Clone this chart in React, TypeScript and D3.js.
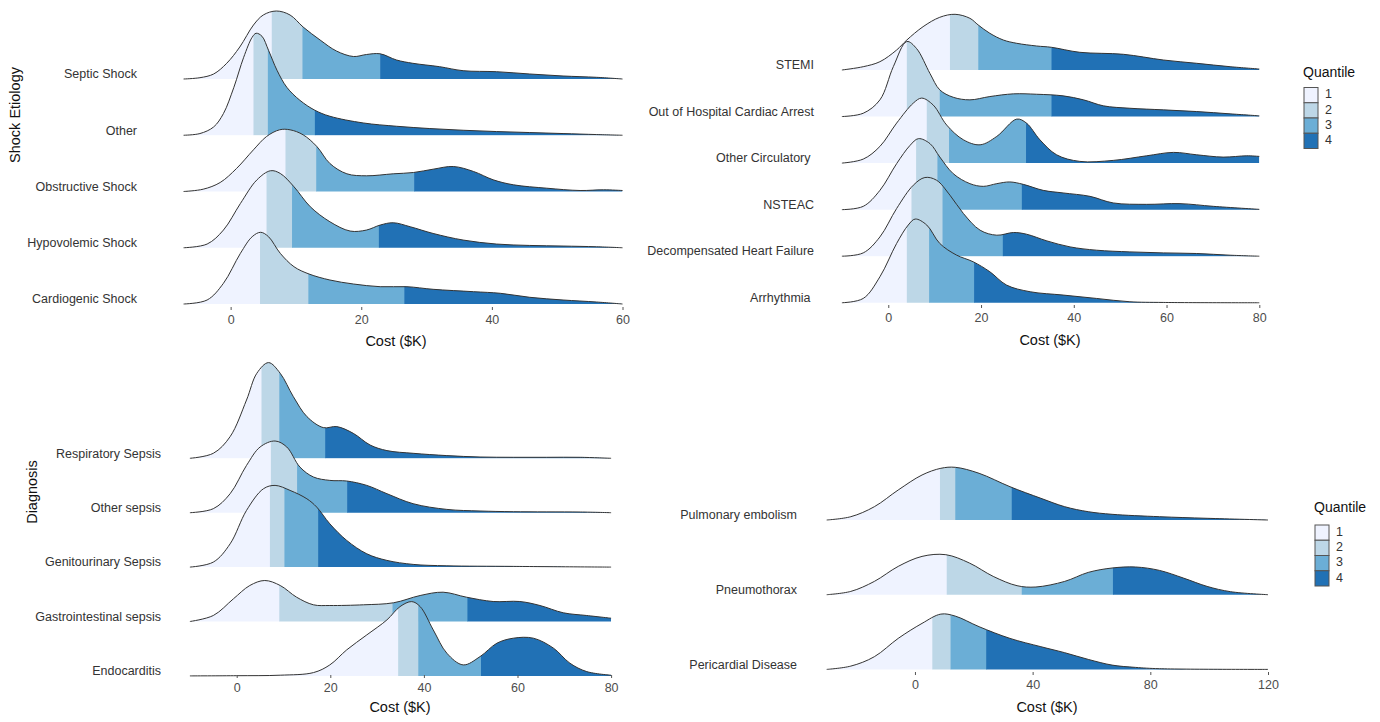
import React, { useEffect, useRef } from 'react'
import * as d3 from 'd3'

type Pt = [number, number]

// ---- Shock etiology (top left) ----
const shockLabels = ['Septic Shock', 'Other', 'Obstructive Shock', 'Hypovolemic Shock', 'Cardiogenic Shock']
const shockTicks = [0, 20, 40, 60]
const septicShock: Pt[] = [[-7.2, 0], [-4.7, 1.3], [-2.6, 5], [-0.6, 15.7], [1.4, 32], [3.5, 54], [5.0, 64], [7.0, 68], [9.1, 64], [11.1, 52], [13.7, 39], [16.2, 28], [18.8, 22.5], [20.8, 24.5], [22.9, 25.2], [25.4, 19], [27.9, 15.7], [32, 12.3], [35.6, 8.3], [40.7, 7.3], [45.8, 5], [50.9, 3], [56, 1.7], [60, 0]]
const otherShock: Pt[] = [[-7.2, 0], [-4.7, 1.7], [-2.6, 8.3], [-1.1, 21.7], [0.5, 48], [2.0, 78], [3.3, 98], [3.9, 102], [4.8, 99], [5.8, 85], [7.1, 65], [8.6, 48], [10.6, 35], [12.9, 25], [15.2, 19], [20.3, 12.3], [25.4, 9], [30.5, 6.7], [35.6, 5], [40.7, 3.7], [45.8, 2.7], [50.9, 1.7], [56, 0.7], [60, 0]]
const obstructiveShock: Pt[] = [[-7.2, 0], [-4.2, 2.3], [-1.6, 9], [0.9, 23], [3.5, 41.7], [5.5, 55], [7.5, 61.7], [9.1, 61.7], [11.1, 56.7], [13.2, 45], [15.2, 28], [17.8, 17.7], [20.8, 15.7], [24.9, 17.7], [28, 19], [31, 22.3], [34.1, 25], [37.2, 20], [40.2, 11.7], [43.3, 6.7], [48.4, 3.3], [53.5, 1], [57.1, 1.7], [60, 1]]
const hypovolemicShock: Pt[] = [[-7.2, 0], [-3.6, 3.7], [-1.1, 17.7], [1.5, 44.3], [4.0, 67.7], [6.1, 77], [7.6, 74.3], [9.7, 61], [12.2, 41], [15.2, 26], [18.3, 16.7], [20.8, 17.7], [22.9, 22.7], [24.9, 25], [27.5, 21], [31, 14.3], [35.6, 7.7], [40.7, 3.7], [45.8, 2.3], [50.9, 1.7], [56, 1], [60, 0]]
const cardiogenicShock: Pt[] = [[-7.2, 0], [-3.6, 4], [-1.1, 20.7], [1.5, 50.7], [3.3, 67.3], [4.6, 71.7], [5.8, 67.3], [7.6, 50.7], [9.7, 37.3], [12.0, 30], [15.2, 24], [18.8, 20], [22.9, 17.3], [27, 17.3], [31, 14.7], [37.2, 12.3], [41.3, 10.7], [45.8, 6.7], [50.9, 4], [56, 2], [60, 0]]
const shockCuts = [[6.3, 11.0, 22.9], [3.5, 5.7, 12.9], [8.4, 13.1, 28.1], [5.5, 9.4, 22.7], [4.5, 11.9, 26.6]]

// ---- Circulatory (top right) ----
const circLabels = ['STEMI', 'Out of Hospital Cardiac Arrest', 'Other Circulatory ', 'NSTEAC', 'Decompensated Heart Failure', 'Arrhythmia ']
const circTicks = [0, 20, 40, 60, 80]
const stemi: Pt[] = [[-10, 0], [-5.4, 3.3], [-1.8, 8.3], [1.8, 20], [4.0, 30], [7.5, 43.3], [11.1, 52.7], [14.4, 55.7], [17.6, 51.7], [19.4, 45], [21.9, 36.7], [24.8, 30], [27.7, 26.7], [32.0, 24], [35.2, 22.7], [41.3, 17.7], [50.7, 15.7], [59.3, 10], [66.5, 6.7], [73.7, 3.3], [80, 1]]
const outOfHospital: Pt[] = [[-10, 0], [-5.4, 3.3], [-1.8, 16.7], [1.1, 50], [4.0, 75], [6.1, 68], [9.0, 43], [11.1, 26.7], [14.0, 19.3], [17.6, 16.7], [21.9, 20], [27.0, 22.7], [32.0, 22.3], [37.7, 20.7], [42.1, 16.7], [46.4, 10.7], [52.1, 8.3], [59.3, 6.7], [66.5, 5], [73.7, 2.7], [80, 0.7]]
const otherCirculatory: Pt[] = [[-10, 0], [-5.4, 4], [-1.8, 16.7], [1.8, 40], [5.4, 60], [7.2, 65], [9.7, 58], [12.6, 38], [16.2, 23.3], [19.8, 18.3], [23.4, 26.7], [27.7, 44], [29.8, 40], [32.7, 23.3], [36.3, 8.3], [41.3, 1.7], [48.5, 2.7], [55.7, 7.3], [61.5, 10.7], [66.5, 8.3], [72.2, 6], [77.3, 7.3], [80, 6.7]]
const nsteac: Pt[] = [[-10, 0], [-5.4, 3.3], [-1.8, 19.3], [1.8, 46], [4.7, 64.3], [6.5, 71], [9.0, 66], [11.1, 52.7], [14.0, 36], [17.6, 26], [20.5, 23.3], [23.4, 26], [26.2, 27.7], [29.1, 25.3], [33.4, 19.3], [37.7, 16.7], [43.5, 13.3], [48.5, 6.7], [55.7, 5.3], [62.9, 6], [70.1, 3.3], [80, 0.3]]
const decompensatedHF: Pt[] = [[-10, 0], [-5.4, 3.3], [-1.8, 19.3], [1.8, 47.7], [5.4, 71], [7.9, 78.7], [10.4, 76], [13.3, 61], [16.2, 42.7], [19.8, 26], [23.4, 21], [27.0, 23.7], [29.8, 22], [34.2, 15.3], [39.2, 9.3], [44.9, 6], [52.1, 4.3], [59.3, 3.3], [66.5, 2.7], [73.7, 1], [80, 0]]
const arrhythmia: Pt[] = [[-10, 0], [-5.4, 4.3], [-1.8, 26], [1.8, 59.3], [4.3, 77.7], [5.8, 83.7], [8.3, 77.7], [11.1, 59.3], [14.7, 47.7], [18.3, 41], [21.9, 31], [25.5, 17.7], [30.6, 11], [37.7, 7.7], [44.9, 4.3], [52.1, 1], [59.3, 0.3], [80, 0]]
const circCuts = [[13.3, 19.4, 35.2], [4.0, 11.1, 35.2], [8.3, 13.1, 29.7], [6.0, 10.6, 28.8], [5.0, 11.7, 24.7], [4.0, 8.8, 18.5]]

// ---- Sepsis diagnosis (bottom left) ----
const sepsisLabels = ['Respiratory Sepsis', 'Other sepsis', 'Genitourinary Sepsis', 'Gastrointestinal sepsis', 'Endocarditis']
const sepsisTicks = [0, 20, 40, 60, 80]
const respiratorySepsis: Pt[] = [[-10, 0], [-5.0, 5], [-1.4, 21.7], [2.1, 58.3], [4.3, 85], [6.8, 95.7], [9.3, 85], [12.1, 61.7], [15.0, 41.7], [18.5, 30.7], [21.4, 31.7], [24.9, 25], [28.5, 13.3], [32.1, 7.7], [37.7, 5], [44.9, 2.7], [52.0, 1.3], [59.1, 1], [66.2, 1], [73.4, 1], [80, 0]]
const otherSepsis: Pt[] = [[-10, 0], [-5.0, 4], [-1.4, 19], [2.1, 47.3], [5.0, 65.7], [8.2, 71.7], [10.7, 65.7], [13.5, 45.7], [16.4, 35.7], [19.9, 32.3], [23.5, 31.7], [27.8, 27.3], [32.1, 19], [37.7, 9], [44.9, 3.3], [52.0, 1.7], [59.1, 1], [73.4, 0.7], [80, 0]]
const genitourinarySepsis: Pt[] = [[-10, 0], [-5.0, 5], [-1.4, 23.3], [2.1, 56.7], [5.7, 78.3], [8.2, 81.7], [11.4, 76.7], [15.0, 68.3], [17.1, 60], [19.9, 43.3], [23.5, 26.7], [27.8, 13.3], [32.1, 6.7], [37.7, 2.7], [44.9, 1.3], [59.1, 0.7], [80, 0]]
const giSepsis: Pt[] = [[-10, 0], [-5.0, 6], [-0.7, 22.7], [2.8, 36], [6.0, 41], [9.3, 36], [12.8, 24.3], [16.4, 16.7], [19.9, 16], [27.1, 16.7], [33.5, 18.7], [39.2, 26], [44.1, 29.3], [49.1, 24.3], [54.8, 20], [60.5, 20], [64.8, 16], [69.8, 8.7], [74.8, 6], [80, 3.3]]
const endocarditis: Pt[] = [[-10, 0], [0, 0.2], [9.3, 0.7], [16.4, 3.3], [19.9, 11], [23.5, 26], [27.8, 41], [32.1, 56], [34.9, 69.3], [37.4, 74.3], [39.2, 69.3], [42.0, 46], [44.9, 22.7], [48.4, 11], [52.0, 19.3], [55.6, 32.7], [59.1, 37.7], [63.4, 37.7], [67.7, 27.7], [71.2, 12.7], [74.8, 4.3], [80, 0.7]]
const sepsisCuts = [[5.3, 9.1, 18.9], [7.3, 12.9, 23.6], [7.1, 10.2, 17.4], [9.1, 33.3, 49.3], [34.5, 38.8, 52.2]]

// ---- Other diagnoses (bottom right) ----
const otherLabels = ['Pulmonary embolism', 'Pneumothorax', 'Pericardial Disease']
const otherTicks = [0, 40, 80, 120]
const pulmonaryEmbolism: Pt[] = [[-30, 0], [-21.8, 3.3], [-13.8, 13.3], [-5.7, 30], [2.4, 45], [8.8, 51.7], [13.7, 52.7], [21.8, 46.7], [32.3, 33.3], [42.8, 21.7], [50.9, 13.3], [58.9, 8.3], [67.0, 5.7], [83.1, 3.3], [99.3, 1.7], [120, 0]]
const pneumothorax: Pt[] = [[-30, 0], [-21.8, 3.3], [-13.8, 13.3], [-5.7, 28.3], [2.4, 38.3], [10.5, 40], [18.5, 31.7], [26.6, 18.3], [34.7, 9], [41.1, 7.7], [50.9, 13.3], [58.9, 22.3], [67.0, 26.7], [75.0, 27.7], [83.1, 24.3], [91.2, 16.7], [99.3, 8.3], [107.3, 3], [120, 0]]
const pericardialDisease: Pt[] = [[-30, 0], [-21.8, 3.3], [-13.8, 12.7], [-5.7, 31], [2.4, 46], [8.8, 55.3], [13.7, 53.3], [21.8, 42.7], [32.3, 31], [42.8, 22.7], [50.9, 16.7], [58.9, 10], [67.0, 4.3], [75.0, 2], [83.1, 0.7], [120, 0]]
const otherCuts = [[8.5, 13.7, 32.9], [10.8, 36.3, 67.3], [5.9, 12.1, 24.2]]

const quantiles = ['1', '2', '3', '4']
const quantileColors = ['#eff3ff', '#bdd7e7', '#6baed6', '#2171b5']

const FONT = 'Arial, "Liberation Sans", sans-serif'

const panels = [
  { labels: shockLabels, ridges: [septicShock, otherShock, obstructiveShock, hypovolemicShock, cardiogenicShock], cuts: shockCuts,
    domain: [-7.2, 60], range: [183.6, 622.5], ticks: shockTicks, top: 79, step: 56.25, labelX: 137, axisY: 307,
    titleX: 396, titleY: 342, yTitle: 'Shock Etiology', yTitleX: 16, yTitleY: 115 },
  { labels: circLabels, ridges: [stemi, outOfHospital, otherCirculatory, nsteac, decompensatedHF, arrhythmia], cuts: circCuts,
    domain: [-10, 80], range: [841.9, 1259.3], ticks: circTicks, top: 70, step: 46.55, labelX: 814, axisY: 305,
    titleX: 1050, titleY: 341, yTitle: '', yTitleX: 0, yTitleY: 0 },
  { labels: sepsisLabels, ridges: [respiratorySepsis, otherSepsis, genitourinarySepsis, giSepsis, endocarditis], cuts: sepsisCuts,
    domain: [-10, 80], range: [189.9, 611.1], ticks: sepsisTicks, top: 458.3, step: 54.4, labelX: 161, axisY: 675,
    titleX: 400, titleY: 708, yTitle: 'Diagnosis', yTitleX: 33, yTitleY: 492 },
  { labels: otherLabels, ridges: [pulmonaryEmbolism, pneumothorax, pericardialDisease], cuts: otherCuts,
    domain: [-30, 120], range: [826.7, 1268], ticks: otherTicks, top: 520, step: 74.7, labelX: 797, axisY: 672,
    titleX: 1047, titleY: 708, yTitle: '', yTitleX: 0, yTitleY: 0 },
]

const legends = [
  { x: 1303, y: 73, keyY: 87.5 },
  { x: 1314, y: 508, keyY: 525 },
]

function drawPanel(svg: any, p: any, pi: number) {
  const x = d3.scaleLinear().domain(p.domain).range(p.range)
  // relative density -> ridge height in px
  const h = d3.scaleLinear().domain([0, 100]).range([0, 100])
  const g = svg.append('g')
  const curve = d3.curveCatmullRom.alpha(0.5)

  p.ridges.forEach((pts: Pt[], i: number) => {
    const base = p.top + i * p.step
    const area = d3.area<Pt>()
      .x(d => x(d[0]))
      .y0(base)
      .y1(d => Math.min(base, base - h(d[1])))
      .curve(curve)
    const line = d3.line<Pt>()
      .x(d => x(d[0]))
      .y(d => base - h(d[1]))
      .curve(curve)

    const bounds = [p.domain[0], ...p.cuts[i], p.domain[1]]
    const rg = g.append('g')
    quantileColors.forEach((c, k) => {
      const id = `clip-${pi}-${i}-${k}`
      rg.append('clipPath').attr('id', id)
        .append('rect')
        .attr('x', x(bounds[k]))
        .attr('y', 0)
        .attr('width', x(bounds[k + 1]) - x(bounds[k]) + (k < 3 ? 0.6 : 0))
        .attr('height', base + 0.5)
      rg.append('path')
        .datum(pts)
        .attr('d', area)
        .attr('fill', c)
        .attr('clip-path', `url(#${id})`)
    })
    rg.append('path')
      .datum(pts)
      .attr('d', line)
      .attr('fill', 'none')
      .attr('stroke', '#333')
      .attr('stroke-width', 1)

    g.append('text')
      .attr('x', p.labelX)
      .attr('y', base - 4)
      .attr('text-anchor', 'end')
      .attr('dominant-baseline', 'middle')
      .style('white-space', 'pre')
      .attr('font-family', FONT)
      .attr('font-size', 12.5)
      .attr('fill', '#333')
      .text(p.labels[i])
  })

  const axis = g.append('g')
    .attr('transform', `translate(0,${p.axisY})`)
    .call(d3.axisBottom(x).tickValues(p.ticks).tickSize(3).tickPadding(5).tickFormat(d3.format('d')))
  axis.select('.domain').remove()
  axis.selectAll('line').attr('stroke', '#555')
  axis.selectAll('text').attr('font-family', FONT).attr('font-size', 12.5).attr('fill', '#4d4d4d')

  g.append('text')
    .attr('x', p.titleX)
    .attr('y', p.titleY)
    .attr('text-anchor', 'middle')
    .attr('dominant-baseline', 'middle')
    .attr('font-family', FONT)
    .attr('font-size', 14.5)
    .attr('fill', '#111')
    .text('Cost ($K)')

  if (p.yTitle) {
    g.append('text')
      .attr('transform', `translate(${p.yTitleX},${p.yTitleY}) rotate(-90)`)
      .attr('text-anchor', 'middle')
      .attr('dominant-baseline', 'middle')
      .attr('font-family', FONT)
      .attr('font-size', 14.5)
      .attr('fill', '#111')
      .text(p.yTitle)
  }
}

function drawLegend(svg: any, l: any) {
  const g = svg.append('g')
  g.append('text')
    .attr('x', l.x)
    .attr('y', l.y)
    .attr('dominant-baseline', 'middle')
    .attr('font-family', FONT)
    .attr('font-size', 14)
    .attr('fill', '#111')
    .text('Quantile')
  const key = d3.scaleBand().domain(quantiles).range([l.keyY, l.keyY + 61])
  quantiles.forEach((q, k) => {
    g.append('rect')
      .attr('x', l.x + 1)
      .attr('y', key(q))
      .attr('width', 14)
      .attr('height', key.bandwidth())
      .attr('fill', quantileColors[k])
      .attr('stroke', '#555')
      .attr('stroke-width', 1)
    g.append('text')
      .attr('x', l.x + 22)
      .attr('y', (key(q) as number) + key.bandwidth() / 2)
      .attr('dominant-baseline', 'middle')
      .attr('font-family', FONT)
      .attr('font-size', 12.5)
      .attr('fill', '#333')
      .text(q)
  })
}

export default function App() {
  const ref = useRef<SVGSVGElement>(null)

  useEffect(() => {
    const svg = d3.select(ref.current)
    svg.selectAll('*').remove()
    panels.forEach((p, pi) => drawPanel(svg, p, pi))
    legends.forEach(l => drawLegend(svg, l))
  }, [])

  return (
    <svg ref={ref} width={1380} height={722}
      style={{ position: 'absolute', left: 0, top: 0, background: '#fff' }} />
  )
}
